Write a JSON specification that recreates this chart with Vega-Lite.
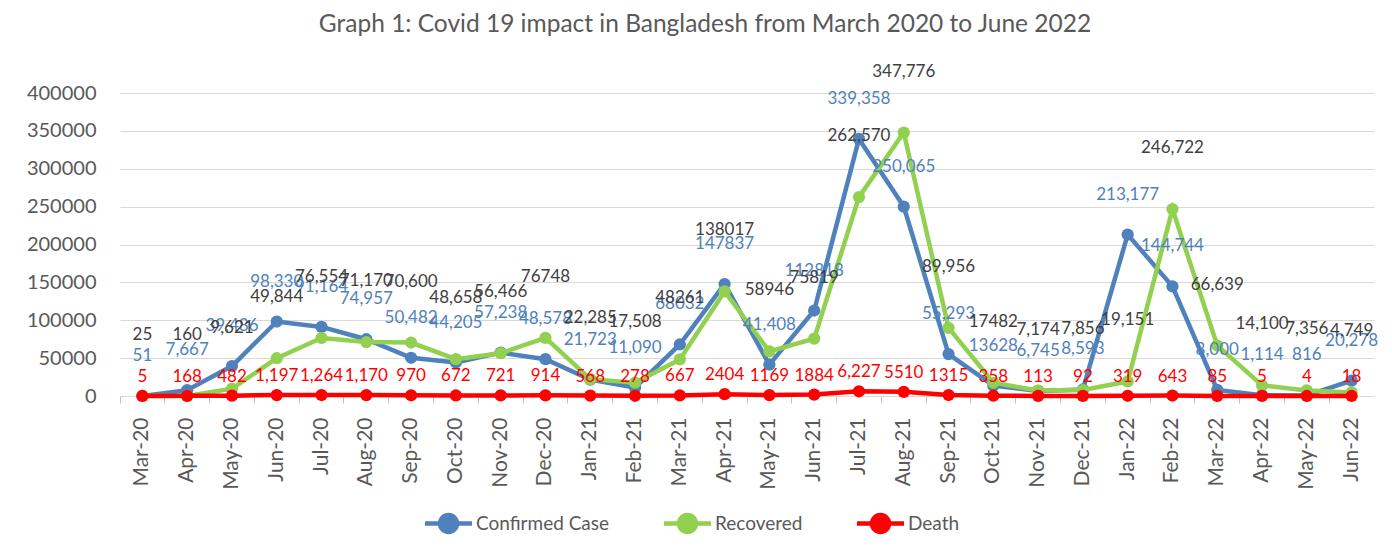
{
  "$schema": "https://vega.github.io/schema/vega-lite/v6.json",
  "autosize": {"type": "none"},
  "width": 1254,
  "height": 303,
  "padding": {"left": 120, "top": 93, "right": 18, "bottom": 161},
  "background": "white",
  "config": {"font": "Lato", "view": {"stroke": null}},
  "title": {"text": "Graph 1: Covid 19 impact in Bangladesh from March 2020 to June 2022", "fontSize": 24.5, "fontWeight": "normal", "color": "#595959", "anchor": "middle", "frame": "group", "dx": -42, "baseline": "alphabetic", "offset": 6},
  "data": {"values": [
    {"m": "Mar-20", "s": "Confirmed Case", "v": 51, "t": "51"},
    {"m": "Apr-20", "s": "Confirmed Case", "v": 7667, "t": "7,667"},
    {"m": "May-20", "s": "Confirmed Case", "v": 39486, "t": "39,486"},
    {"m": "Jun-20", "s": "Confirmed Case", "v": 98330, "t": "98,330"},
    {"m": "Jul-20", "s": "Confirmed Case", "v": 91164, "t": "91,164"},
    {"m": "Aug-20", "s": "Confirmed Case", "v": 74957, "t": "74,957"},
    {"m": "Sep-20", "s": "Confirmed Case", "v": 50482, "t": "50,482"},
    {"m": "Oct-20", "s": "Confirmed Case", "v": 44205, "t": "44,205"},
    {"m": "Nov-20", "s": "Confirmed Case", "v": 57238, "t": "57,238"},
    {"m": "Dec-20", "s": "Confirmed Case", "v": 48578, "t": "48,578"},
    {"m": "Jan-21", "s": "Confirmed Case", "v": 21723, "t": "21,723"},
    {"m": "Feb-21", "s": "Confirmed Case", "v": 11090, "t": "11,090"},
    {"m": "Mar-21", "s": "Confirmed Case", "v": 68032, "t": "68032"},
    {"m": "Apr-21", "s": "Confirmed Case", "v": 147837, "t": "147837"},
    {"m": "May-21", "s": "Confirmed Case", "v": 41408, "t": "41,408"},
    {"m": "Jun-21", "s": "Confirmed Case", "v": 112818, "t": "112818"},
    {"m": "Jul-21", "s": "Confirmed Case", "v": 339358, "t": "339,358"},
    {"m": "Aug-21", "s": "Confirmed Case", "v": 250065, "t": "250,065"},
    {"m": "Sep-21", "s": "Confirmed Case", "v": 55293, "t": "55,293"},
    {"m": "Oct-21", "s": "Confirmed Case", "v": 13628, "t": "13628"},
    {"m": "Nov-21", "s": "Confirmed Case", "v": 6745, "t": "6,745"},
    {"m": "Dec-21", "s": "Confirmed Case", "v": 8593, "t": "8,593"},
    {"m": "Jan-22", "s": "Confirmed Case", "v": 213177, "t": "213,177"},
    {"m": "Feb-22", "s": "Confirmed Case", "v": 144744, "t": "144,744"},
    {"m": "Mar-22", "s": "Confirmed Case", "v": 8000, "t": "8,000"},
    {"m": "Apr-22", "s": "Confirmed Case", "v": 1114, "t": "1,114"},
    {"m": "May-22", "s": "Confirmed Case", "v": 816, "t": "816"},
    {"m": "Jun-22", "s": "Confirmed Case", "v": 20278, "t": "20,278"},
    {"m": "Mar-20", "s": "Recovered", "v": 25, "t": "25"},
    {"m": "Apr-20", "s": "Recovered", "v": 160, "t": "160"},
    {"m": "May-20", "s": "Recovered", "v": 9621, "t": "9,621"},
    {"m": "Jun-20", "s": "Recovered", "v": 49844, "t": "49,844"},
    {"m": "Jul-20", "s": "Recovered", "v": 76554, "t": "76,554"},
    {"m": "Aug-20", "s": "Recovered", "v": 71170, "t": "71,170"},
    {"m": "Sep-20", "s": "Recovered", "v": 70600, "t": "70,600"},
    {"m": "Oct-20", "s": "Recovered", "v": 48658, "t": "48,658"},
    {"m": "Nov-20", "s": "Recovered", "v": 56466, "t": "56,466"},
    {"m": "Dec-20", "s": "Recovered", "v": 76748, "t": "76748"},
    {"m": "Jan-21", "s": "Recovered", "v": 22285, "t": "22,285"},
    {"m": "Feb-21", "s": "Recovered", "v": 17508, "t": "17,508"},
    {"m": "Mar-21", "s": "Recovered", "v": 48261, "t": "48261"},
    {"m": "Apr-21", "s": "Recovered", "v": 138017, "t": "138017"},
    {"m": "May-21", "s": "Recovered", "v": 58946, "t": "58946"},
    {"m": "Jun-21", "s": "Recovered", "v": 75819, "t": "75819"},
    {"m": "Jul-21", "s": "Recovered", "v": 262570, "t": "262,570"},
    {"m": "Aug-21", "s": "Recovered", "v": 347776, "t": "347,776"},
    {"m": "Sep-21", "s": "Recovered", "v": 89956, "t": "89,956"},
    {"m": "Oct-21", "s": "Recovered", "v": 17482, "t": "17482"},
    {"m": "Nov-21", "s": "Recovered", "v": 7174, "t": "7,174"},
    {"m": "Dec-21", "s": "Recovered", "v": 7856, "t": "7,856"},
    {"m": "Jan-22", "s": "Recovered", "v": 19151, "t": "19,151"},
    {"m": "Feb-22", "s": "Recovered", "v": 246722, "t": "246,722"},
    {"m": "Mar-22", "s": "Recovered", "v": 66639, "t": "66,639"},
    {"m": "Apr-22", "s": "Recovered", "v": 14100, "t": "14,100"},
    {"m": "May-22", "s": "Recovered", "v": 7356, "t": "7,356"},
    {"m": "Jun-22", "s": "Recovered", "v": 4749, "t": "4,749"},
    {"m": "Mar-20", "s": "Death", "v": 5, "t": "5"},
    {"m": "Apr-20", "s": "Death", "v": 168, "t": "168"},
    {"m": "May-20", "s": "Death", "v": 482, "t": "482"},
    {"m": "Jun-20", "s": "Death", "v": 1197, "t": "1,197"},
    {"m": "Jul-20", "s": "Death", "v": 1264, "t": "1,264"},
    {"m": "Aug-20", "s": "Death", "v": 1170, "t": "1,170"},
    {"m": "Sep-20", "s": "Death", "v": 970, "t": "970"},
    {"m": "Oct-20", "s": "Death", "v": 672, "t": "672"},
    {"m": "Nov-20", "s": "Death", "v": 721, "t": "721"},
    {"m": "Dec-20", "s": "Death", "v": 914, "t": "914"},
    {"m": "Jan-21", "s": "Death", "v": 568, "t": "568"},
    {"m": "Feb-21", "s": "Death", "v": 278, "t": "278"},
    {"m": "Mar-21", "s": "Death", "v": 667, "t": "667"},
    {"m": "Apr-21", "s": "Death", "v": 2404, "t": "2404"},
    {"m": "May-21", "s": "Death", "v": 1169, "t": "1169"},
    {"m": "Jun-21", "s": "Death", "v": 1884, "t": "1884"},
    {"m": "Jul-21", "s": "Death", "v": 6227, "t": "6,227"},
    {"m": "Aug-21", "s": "Death", "v": 5510, "t": "5510"},
    {"m": "Sep-21", "s": "Death", "v": 1315, "t": "1315"},
    {"m": "Oct-21", "s": "Death", "v": 358, "t": "358"},
    {"m": "Nov-21", "s": "Death", "v": 113, "t": "113"},
    {"m": "Dec-21", "s": "Death", "v": 92, "t": "92"},
    {"m": "Jan-22", "s": "Death", "v": 319, "t": "319"},
    {"m": "Feb-22", "s": "Death", "v": 643, "t": "643"},
    {"m": "Mar-22", "s": "Death", "v": 85, "t": "85"},
    {"m": "Apr-22", "s": "Death", "v": 5, "t": "5"},
    {"m": "May-22", "s": "Death", "v": 4, "t": "4"},
    {"m": "Jun-22", "s": "Death", "v": 18, "t": "18"}
  ]},
  "encoding": {
    "x": {"field": "m", "type": "ordinal",
      "sort": ["Mar-20","Apr-20","May-20","Jun-20","Jul-20","Aug-20","Sep-20","Oct-20","Nov-20","Dec-20","Jan-21","Feb-21","Mar-21","Apr-21","May-21","Jun-21","Jul-21","Aug-21","Sep-21","Oct-21","Nov-21","Dec-21","Jan-22","Feb-22","Mar-22","Apr-22","May-22","Jun-22"],
      "scale": {"type": "band", "paddingInner": 0, "paddingOuter": 0},
      "axis": {"title": null, "labelAngle": -90, "labelFontSize": 21, "labelColor": "#595959", "labelPadding": 14, "bandPosition": 0, "labelOffset": 0, "tickColor": "#BFBFBF", "tickSize": 7, "domainColor": "#D9D9D9", "grid": false}},
    "y": {"field": "v", "type": "quantitative",
      "scale": {"domain": [0, 400000], "nice": false},
      "axis": {"title": null, "values": [0,50000,100000,150000,200000,250000,300000,350000,400000], "format": "d", "labelFontSize": 20, "labelColor": "#595959", "ticks": false, "domain": false, "gridColor": "#D9D9D9", "labelPadding": 24}}
  },
  "layer": [
    {"transform": [{"filter": "datum.s == 'Confirmed Case'"}],
     "mark": {"type": "line", "strokeWidth": 4.5, "point": {"filled": true, "size": 150}},
     "encoding": {"color": {"field": "s", "type": "nominal",
        "scale": {"domain": ["Confirmed Case", "Recovered", "Death"], "range": ["#4F81BD", "#92D050", "#FF0000"]},
        "legend": {"title": null, "orient": "none", "legendX": 319, "legendY": 421, "direction": "horizontal",
          "symbolType": "M-4.7,0L4.7,0M1.7,0A1.7,1.7,0,1,1,-1.7,0A1.7,1.7,0,1,1,1.7,0Z", "symbolSize": 100, "symbolStrokeWidth": 4.5,
          "labelFontSize": 19, "labelColor": "#595959", "labelOffset": 18, "columnPadding": 45,
          "encode": {"symbols": {"update": {"fill": {"scale": "color", "field": "value"}, "stroke": {"scale": "color", "field": "value"}, "opacity": {"value": 1}}}}}}}},
    {"transform": [{"filter": "datum.s == 'Recovered'"}],
     "mark": {"type": "line", "strokeWidth": 4.5, "point": {"filled": true, "size": 150}},
     "encoding": {"color": {"field": "s", "type": "nominal"}}},
    {"transform": [{"filter": "datum.s == 'Death'"}],
     "mark": {"type": "line", "strokeWidth": 4.5, "point": {"filled": true, "size": 150}},
     "encoding": {"color": {"field": "s", "type": "nominal"}}},
    {"transform": [{"filter": "datum.s == 'Confirmed Case'"}],
     "mark": {"type": "text", "fontSize": 17, "color": "#4F81BD", "align": "center", "baseline": "bottom", "dy": -31},
     "encoding": {"text": {"field": "t"}}},
    {"transform": [{"filter": "datum.s == 'Recovered'"}],
     "mark": {"type": "text", "fontSize": 17, "color": "#404040", "align": "center", "baseline": "bottom", "dy": -52},
     "encoding": {"text": {"field": "t"}}},
    {"transform": [{"filter": "datum.s == 'Death'"}],
     "mark": {"type": "text", "fontSize": 17, "color": "#FF0000", "align": "center", "baseline": "bottom", "dy": -10},
     "encoding": {"text": {"field": "t"}}}
  ]
}
